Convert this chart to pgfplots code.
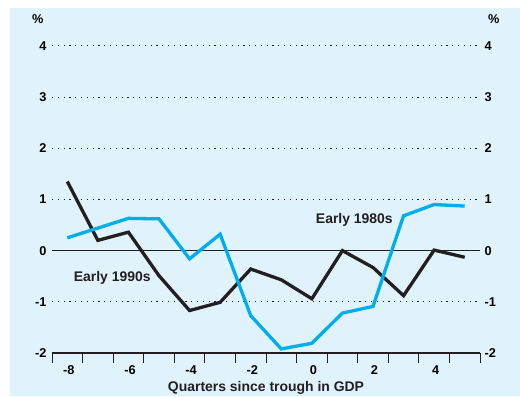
\documentclass[border=0pt]{standalone}
\usepackage{fontspec}
\setmainfont{Liberation Sans}
\usepackage{pgfplots}
\pgfplotsset{compat=1.18}
\definecolor{bg}{RGB}{224,242,251}
\definecolor{rbablue}{RGB}{0,174,239}
\definecolor{rbablack}{RGB}{35,31,32}
\newcommand{\tickfont}{\bfseries\fontsize{12.8}{14}\selectfont}
\newcommand{\bigfont}{\bfseries\fontsize{14}{16}\selectfont}
\begin{document}
\begin{tikzpicture}[x=1bp,y=1bp]
\useasboundingbox (0,0) rectangle (520,-396);
\fill[bg] (10,-8) rectangle (520,-396);
\begin{axis}[
  at={(52bp,-353bp)}, anchor=south west,
  scale only axis, width=428bp, height=307.2bp,
  xmin=-8.5, xmax=5.5, ymin=-2, ymax=4,
  axis line style={draw=none},
  /pgf/number format/assume math mode=true,
  tick label style={font=\tickfont},
  xtick={-8,-6,...,4},
  minor xtick={-8.5,-7.5,...,5.5},
  tick align=outside, xtick pos=bottom, ytick pos=left,
  major tick length=10bp, minor tick length=10bp,
  major x tick style={draw=none},
  minor x tick style={draw=rbablack, line width=1bp},
  xticklabel style={xshift=1.5bp, yshift=1bp},
  ytick={-2,...,4},
  ytick style={draw=none},
  yticklabel style={xshift=8bp},
  ymajorgrids,
  major grid style={draw=rbablack, line width=0.8bp, dash pattern=on 1.2bp off 4.6bp},
  clip=false,
]
\draw[rbablack, line width=0.9bp] (axis cs:-8.5,0) -- (axis cs:5.5,0);
\draw[rbablack, line width=1.2bp] (axis cs:-8.5,-2) -- (axis cs:5.5,-2);
\addplot[rbablack, line width=3.3bp, line join=miter, mark=none] coordinates {
(-8,1.35) (-7,0.2) (-6,0.36) (-5,-0.49) (-4,-1.17) (-3,-1.01) (-2,-0.36)
(-1,-0.57) (0,-0.94) (1,0.0) (2,-0.33) (3,-0.88) (4,0.01) (5,-0.13)};
\addplot[rbablue, line width=3.3bp, line join=miter, mark=none] coordinates {
(-8,0.25) (-7,0.44) (-6,0.63) (-5,0.62) (-4,-0.16) (-3,0.32) (-2,-1.27)
(-1,-1.92) (0,-1.81) (1,-1.22) (2,-1.09) (3,0.68) (4,0.90) (5,0.87)};
\node[font=\bigfont, text=rbablack] at (axis cs:-6.53,-0.53) {Early 1990s};
\node[font=\bigfont, text=rbablack] at (axis cs:1.39,0.6) {Early 1980s};
\end{axis}
\begin{axis}[
  at={(52bp,-353bp)}, anchor=south west,
  scale only axis, width=428bp, height=307.2bp,
  xmin=-8.5, xmax=5.5, ymin=-2, ymax=4,
  axis line style={draw=none},
  /pgf/number format/assume math mode=true,
  tick label style={font=\tickfont},
  xtick=\empty,
  ytick={-2,...,4},
  yticklabel pos=right,
  tick align=outside, major tick length=10bp,
  ytick style={draw=none},
  yticklabel style={xshift=-9bp},
]
\end{axis}
\node[font=\tickfont, anchor=east] at (47,-19) {\%};
\node[font=\tickfont, anchor=west] at (484.5,-19) {\%};
\node[font=\bigfont, text=rbablack] at (266,-388) {Quarters since trough in GDP};
\end{tikzpicture}
\end{document}
